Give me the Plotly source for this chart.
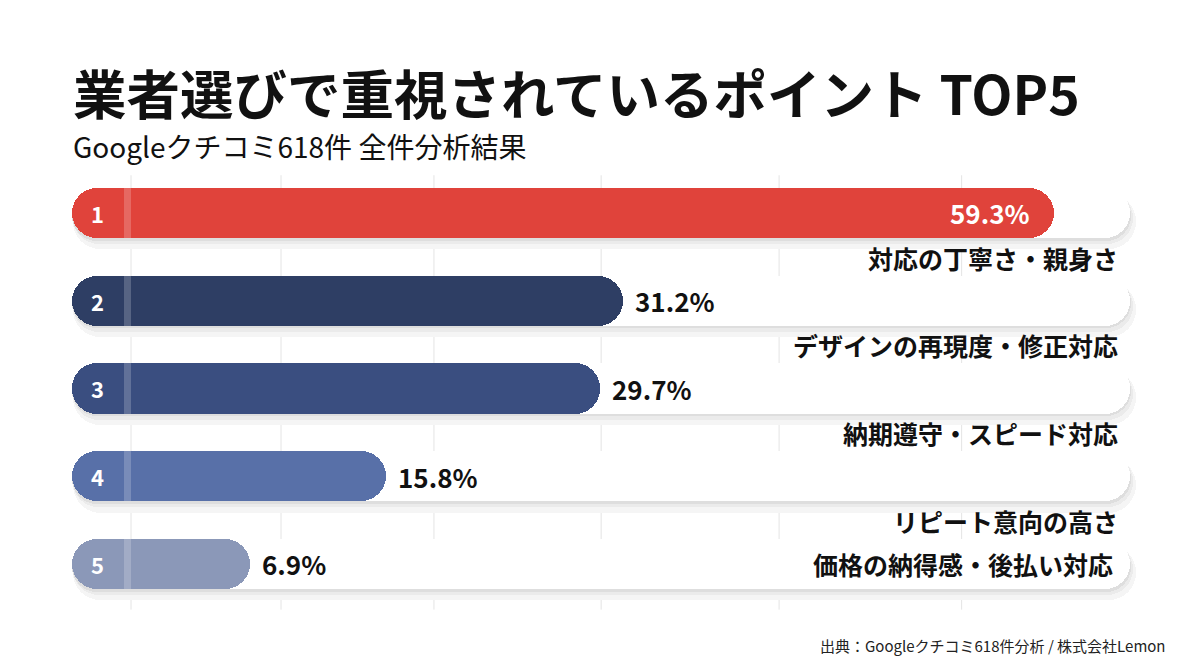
import plotly.graph_objects as go

# ---------------- data ----------------
ranks = ["1", "2", "3", "4", "5"]
categories = [
    "対応の丁寧さ・親身さ",
    "デザインの再現度・修正対応",
    "納期遵守・スピード対応",
    "リピート意向の高さ",
    "価格の納得感・後払い対応",
]
values = [59.3, 31.2, 29.7, 15.8, 6.9]
value_labels = ["59.3%", "31.2%", "29.7%", "15.8%", "6.9%"]

title_text = "業者選びで重視されているポイント TOP5"
subtitle_text = "Googleクチコミ618件 全件分析結果"
source_text = "出典：Googleクチコミ618件分析 / 株式会社Lemon"

# ---------------- style ----------------
bar_colors = ["#E0433B", "#2E3E64", "#3A4E80", "#5870A8", "#8B98B8"]
FONT = "Noto Sans CJK JP"
X_RANGE = [-9.39, 68.84]
Y_RANGE = [5.208, -2.427]          # reversed: first row on top
BAR_START = -4.7
TRACK_END = 64.3
BAR_W = 0.57
grid_at = [-0.85, 8.93, 18.9, 29.8, 41.4, 53.3]

rows = list(range(len(values)))
n = len(values)
fig = go.Figure()


def pill(y, x0, x1, color, width=BAR_W, radius=25):
    fig.add_trace(go.Bar(
        y=y, x=[b - a for a, b in zip(x0, x1)], base=x0,
        orientation="h", width=width,
        marker=dict(color=color, cornerradius=radius, line=dict(width=0)),
        hoverinfo="skip", showlegend=False))


starts = [BAR_START] * n
ends = [TRACK_END] * n

# soft shadows
pill([r + 0.10 for r in rows], [s + 0.1 for s in starts], [e + 0.35 for e in ends],
     "#F5F5F5", width=BAR_W + 0.06, radius=28)
pill([r + 0.06 for r in rows], [s + 0.05 for s in starts], [e + 0.2 for e in ends],
     "#EBEBEB", width=BAR_W + 0.02, radius=26)
pill([r + 0.03 for r in rows], starts, [e + 0.05 for e in ends],
     "#DEDEDE", width=BAR_W, radius=25)
# white track
pill(rows, starts, ends, "#FFFFFF")
# coloured value bars
pill(rows, starts, values, bar_colors)

# light separator stripe next to the rank badge
fig.add_trace(go.Bar(y=rows, x=[0.42] * n, base=[-1.3] * n, orientation="h",
                     width=BAR_W, marker=dict(color="rgba(255,255,255,0.2)", line=dict(width=0)),
                     hoverinfo="skip", showlegend=False))

# gridlines behind the bars
for g in grid_at:
    fig.add_shape(type="line", x0=g, x1=g, y0=-0.43, y1=4.52, xref="x", yref="y",
                  layer="below", line=dict(color="#E4E4E4", width=1))

# rank numbers
for r, rk in zip(rows, ranks):
    fig.add_annotation(x=-3.06, y=r, xref="x", yref="y", text=rk, showarrow=False,
                       xanchor="center", yanchor="middle",
                       font=dict(family=FONT, size=22, color="white", weight=700))

# value labels
for i, (r, v, lab) in enumerate(zip(rows, values, value_labels)):
    inside = i == 0
    fig.add_annotation(x=v, y=r, xref="x", yref="y", text=lab, showarrow=False,
                       xanchor="right" if inside else "left",
                       xshift=-22 if inside else 10, yanchor="middle",
                       font=dict(family=FONT, size=26, weight=700,
                                 color="white" if inside else "#111111"))

# category labels
for i, (r, c) in enumerate(zip(rows, categories)):
    last = i == n - 1
    fig.add_annotation(x=0.933 if not last else 0.929, y=r if last else r + 0.51,
                       xref="paper", yref="y", text=c, showarrow=False,
                       xanchor="right", yanchor="middle",
                       font=dict(family=FONT, size=25, weight=700, color="#111111"))

# titles
fig.add_annotation(x=0.059, y=1 - 92 / 670, xref="paper", yref="paper", text=title_text,
                   showarrow=False, xanchor="left", yanchor="middle",
                   font=dict(family=FONT, size=53.5, weight=700, color="#111111"))
fig.add_annotation(x=0.059, y=1 - 146 / 670, xref="paper", yref="paper", text=subtitle_text,
                   showarrow=False, xanchor="left", yanchor="middle",
                   font=dict(family=FONT, size=28, color="#111111"))
fig.add_annotation(x=0.973, y=1 - 645 / 670, xref="paper", yref="paper", text=source_text,
                   showarrow=False, xanchor="right", yanchor="middle",
                   font=dict(family=FONT, size=15, color="#222222"))

fig.update_layout(
    width=1200, height=670,
    margin=dict(l=0, r=0, t=0, b=0),
    paper_bgcolor="white", plot_bgcolor="rgba(0,0,0,0)",
    barmode="overlay", bargap=0,
    xaxis=dict(range=X_RANGE, visible=False, showgrid=False, zeroline=False, fixedrange=True),
    yaxis=dict(range=Y_RANGE, visible=False, showgrid=False, zeroline=False, fixedrange=True),
    font=dict(family=FONT),
)

fig.write_html("out.html")
